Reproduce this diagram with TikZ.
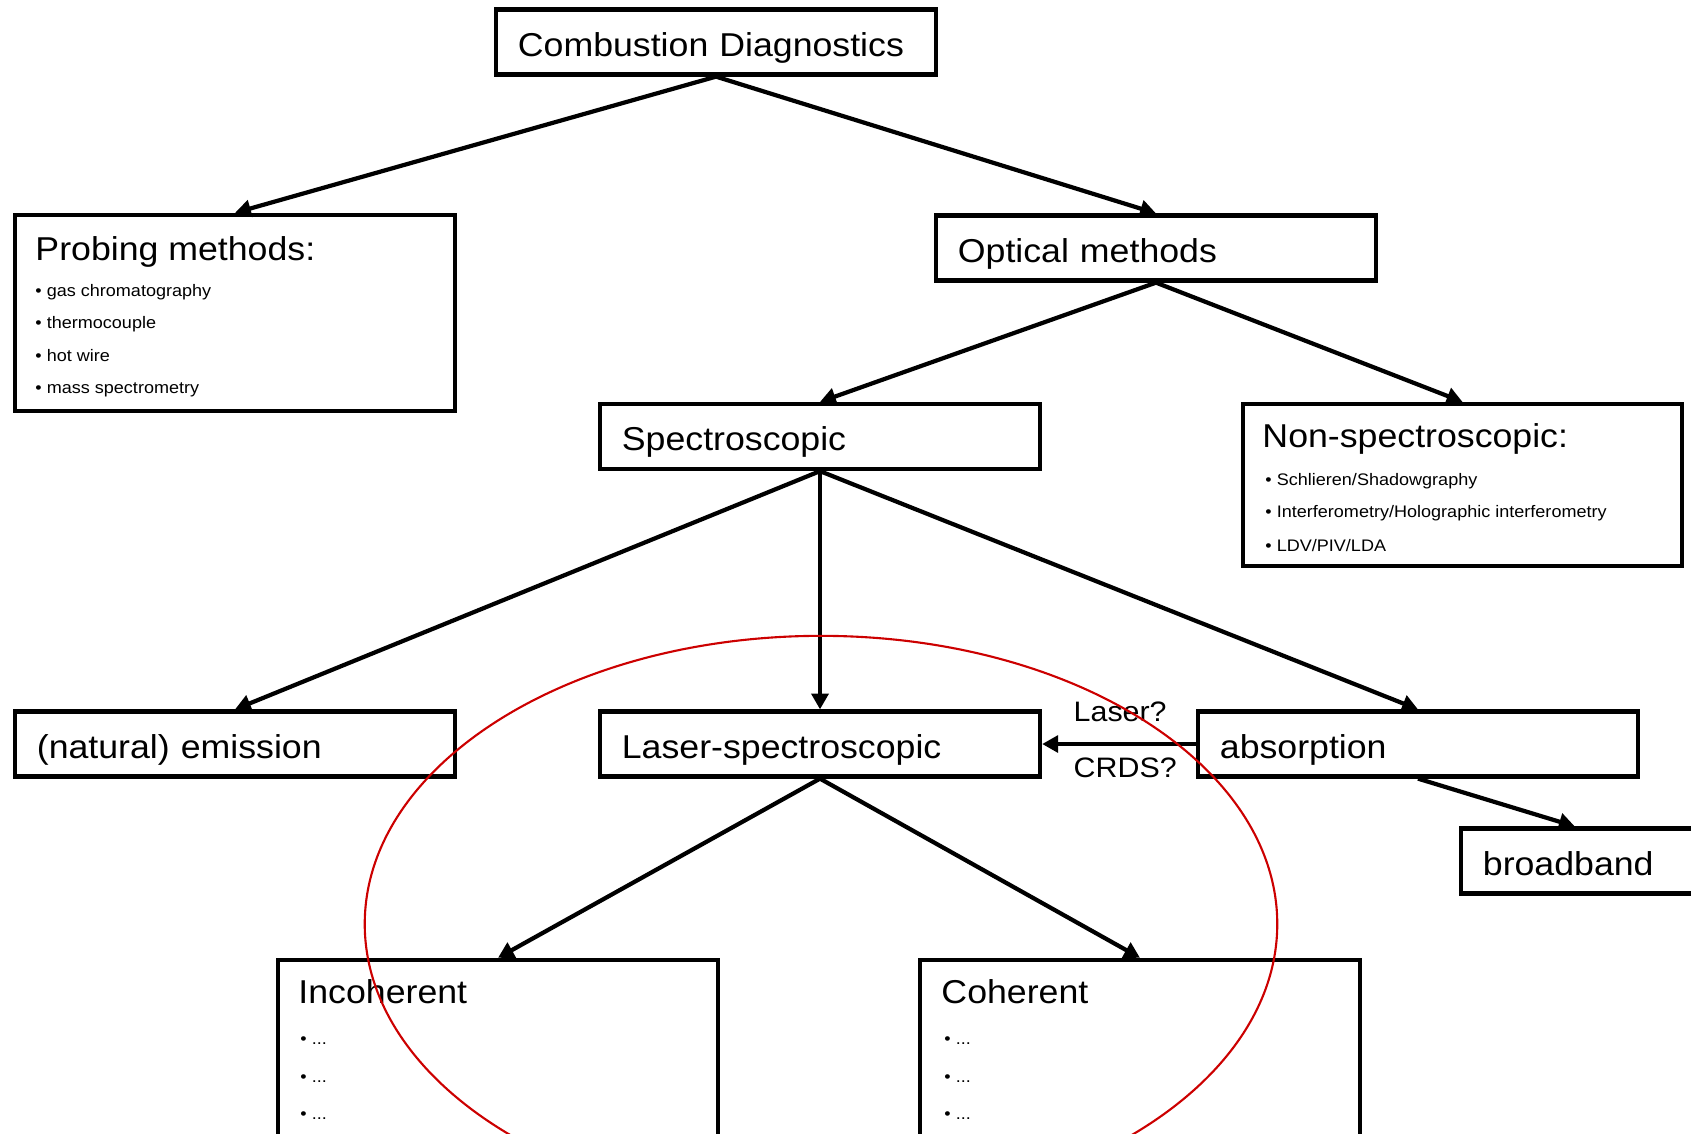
\documentclass[tikz,border=0pt]{standalone}
\usepackage{fontspec}
\setmainfont{Liberation Sans}[FakeStretch=1.08]
\usetikzlibrary{arrows.meta,calc}
\definecolor{ringred}{RGB}{204,0,0}
\tikzset{
  box/.style={draw, line width=1.2pt, minimum width=4.4cm, minimum height=0.65cm, inner sep=0pt},
  labelbox/.style={box, align=left, text width=3.96cm, inner xsep=0.22cm,
    text height=8pt, text depth=0pt, font=\fontsize{9.4}{11}\selectfont},
  head/.style={anchor=base west, inner sep=0pt, font=\fontsize{9.4}{11}\selectfont},
  item/.style={anchor=base west, inner sep=0pt, font=\fontsize{4.75}{6}\selectfont},
  tag/.style={anchor=base west, inner sep=0pt, font=\fontsize{8}{10}\selectfont},
  link/.style={line width=1.2pt, -{Triangle[length=4.5pt,width=4.8pt]}},
}
\begin{document}
\begin{tikzpicture}[x=0.01cm, y=-0.01cm]
\path[use as bounding box] (0,0) rectangle (1691,1133);
\clip (0,0) rectangle (1691,1133);

% boxes
\node[labelbox] (diag) at (716,42) {Combustion Diagnostics};
\node[box, minimum height=1.96cm] (probe) at (235,313) {};
\node[labelbox] (optical) at (1156,248) {Optical methods};
\node[labelbox] (spectro) at (820,436.5) {Spectroscopic};
\node[box, minimum width=4.39cm, minimum height=1.62cm] (nonspec) at (1462.5,485) {};
\node[labelbox] (emission) at (235,744) {(natural) emission};
\node[labelbox] (laser) at (820,744) {Laser-spectroscopic};
\node[labelbox] (absorb) at (1418,744) {absorption};
\node[labelbox] (broad) at (1681,861) {broadband};
\node[box, minimum height=3cm] (incoh) at (498,1110) {};
\node[box, minimum height=3cm] (coh) at (1140,1110) {};

% probing methods
\node[head] (probeh) at ($(probe.north west)+(22,48)$) {Probing methods:};
\node[item] (p1) at ($(probe.north west)+(22,84)$) {• gas chromatography};
\node[item] (p2) at ($(probe.north west)+(22,116)$) {• thermocouple};
\node[item] (p3) at ($(probe.north west)+(22,149)$) {• hot wire};
\node[item] (p4) at ($(probe.north west)+(22,181)$) {• mass spectrometry};

% non-spectroscopic methods
\node[head] (nonh) at ($(nonspec.north west)+(21,46)$) {Non-spectroscopic:};
\node[item] (n1) at ($(nonspec.north west)+(24,84)$) {• Schlieren/Shadowgraphy};
\node[item] (n2) at ($(nonspec.north west)+(24,116)$) {• Interferometry/Holographic interferometry};
\node[item] (n3) at ($(nonspec.north west)+(24,150)$) {• LDV/PIV/LDA};

% incoherent / coherent
\node[head] (incohh) at ($(incoh.north west)+(22,46)$) {Incoherent};
\node[item] (i1) at ($(incoh.north west)+(24,87)$) {• ...};
\node[item] (i2) at ($(incoh.north west)+(24,125)$) {• ...};
\node[item] (i3) at ($(incoh.north west)+(24,162)$) {• ...};
\node[head] (cohh) at ($(coh.north west)+(23,46)$) {Coherent};
\node[item] (c1) at ($(coh.north west)+(26,87)$) {• ...};
\node[item] (c2) at ($(coh.north west)+(26,125)$) {• ...};
\node[item] (c3) at ($(coh.north west)+(26,162)$) {• ...};

% connectors
\draw[link] (diag.south) -- (probe.north);
\draw[link] (diag.south) -- (optical.north);
\draw[link] (optical.south) -- (spectro.north);
\draw[link] (optical.south) -- (nonspec.north);
\draw[link] (spectro.south) -- (emission.north);
\draw[link] (spectro.south) -- (laser.north);
\draw[link] (spectro.south) -- (absorb.north);
\coordinate (bbtip) at ($(broad.north west)+(116,0)$);
\draw[link] (absorb.south) -- (bbtip);
\draw[link] (laser.south) -- (incoh.north);
\draw[link] (laser.south) -- (coh.north);
\draw[link, line width=0.95pt] (absorb.west) -- (laser.east);
\node[tag] (lq) at (1073,721) {Laser?};
\node[tag] (cq) at (1073,777) {CRDS?};

% highlight ring
\draw[ringred, line width=0.6pt] (821,924) ellipse [x radius=4.56cm, y radius=2.88cm];
\end{tikzpicture}
\end{document}
